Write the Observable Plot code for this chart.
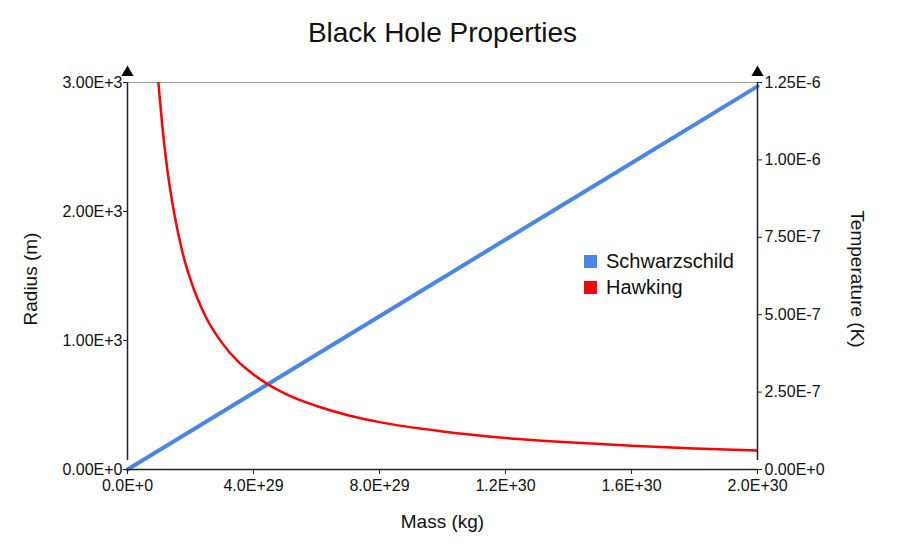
<!DOCTYPE html>
<html>
<head>
<meta charset="utf-8">
<script src="https://cdn.jsdelivr.net/npm/d3@7"></script>
<script src="https://cdn.jsdelivr.net/npm/@observablehq/plot@0.6"></script>
<style>
  body { margin: 0; background: #fff; font-family: "Liberation Sans", Arial, sans-serif; }
  #wrap { position: relative; width: 900px; height: 550px; }
  .legend { position: absolute; left: 584px; top: 248px; font-size: 20px; color: #111; }
  .legend div { display: flex; align-items: center; height: 26px; }
  .legend span.sw { display: inline-block; width: 13px; height: 13px; margin-right: 9px; }
</style>
</head>
<body>
<div id="wrap"></div>
<script>
// ---- data ----
const title = "Black Hole Properties";
const xLabel = "Mass (kg)";
const yLeftLabel = "Radius (m)";
const yRightLabel = "Temperature (K)";
const seriesNames = ["Schwarzschild", "Hawking"];
const seriesColors = ["#4a86e8", "#ff0000"];

const massDomain = [0, 2.0e30];
const radiusDomain = [0, 3000];
const tempDomain = [0, 1.25e-6];

const massTicks = [0, 4e29, 8e29, 1.2e30, 1.6e30, 2.0e30];
const radiusTicks = [0, 1000, 2000, 3000];
const tempTicks = [0, 2.5e-7, 5.0e-7, 7.5e-7, 1.0e-6, 1.25e-6];

// Schwarzschild radius (m) vs mass (kg)
const schwMass = [0, 5e29, 1e30, 1.5e30, 2e30];
const schwRadius = [0, 742, 1485, 2227, 2970];

// Hawking temperature (K) vs mass (kg)
const hawkMass = [9.8e28, 1.1e29, 1.25e29, 1.5e29, 1.75e29, 2e29, 2.5e29, 3e29, 3.5e29, 4e29, 5e29, 6e29, 7e29, 8e29, 1e30, 1.2e30, 1.4e30, 1.6e30, 1.8e30, 2e30];
const hawkTemp = [1.25e-6, 1.115e-6, 9.8e-7, 8.18e-7, 7.0e-7, 6.13e-7, 4.9e-7, 4.09e-7, 3.5e-7, 3.07e-7, 2.45e-7, 2.05e-7, 1.75e-7, 1.53e-7, 1.23e-7, 1.02e-7, 8.8e-8, 7.7e-8, 6.8e-8, 6.1e-8];

// ---- build ----
const k = radiusDomain[1] / tempDomain[1]; // temperature -> left-axis units
const schw = schwMass.map((m, i) => ({m, v: schwRadius[i]}));
const hawk = hawkMass.map((m, i) => ({m, v: hawkTemp[i] * k}));

function fmtE(v, digits) {
  if (v === 0) return (0).toFixed(digits) + "E+0";
  const e = Math.floor(Math.log10(Math.abs(v)) + 1e-9);
  const m = v / Math.pow(10, e);
  return m.toFixed(digits) + "E" + (e >= 0 ? "+" : "") + e;
}

const axisColor = "#222";
const tickFont = 16;
const labelFont = 19;
const chart = Plot.plot({
  width: 900,
  height: 550,
  marginLeft: 127,
  marginRight: 143,
  marginTop: 82,
  marginBottom: 81,
  style: { fontFamily: "'Liberation Sans', Arial, sans-serif", fontSize: "16px", color: "#111", background: "#fff" },
  x: { domain: massDomain },
  y: { domain: radiusDomain },
  marks: [
    Plot.ruleY([radiusDomain[1]], { stroke: "#999", strokeWidth: 1 }),
    Plot.line(schw, { x: "m", y: "v", stroke: seriesColors[0], strokeWidth: 4 }),
    Plot.line(hawk, { x: "m", y: "v", stroke: seriesColors[1], strokeWidth: 2.5, curve: "monotone-x", clip: true }),
    Plot.axisX({ ticks: massTicks, tickFormat: d => fmtE(d, 1), tickSize: 5, tickPadding: 5, stroke: axisColor, label: null, fontSize: tickFont }),
    Plot.axisY({ anchor: "left", ticks: radiusTicks, tickFormat: d => fmtE(d, 2), tickSize: 4, tickPadding: 1, stroke: axisColor, label: null, fontSize: tickFont }),
    Plot.axisY({ anchor: "right", ticks: tempTicks.map(t => t * k), tickFormat: (d, i) => fmtE(tempTicks[i], 2), tickSize: 4, tickPadding: 3, stroke: axisColor, label: null, fontSize: tickFont }),
    Plot.ruleY([radiusDomain[0]], { stroke: axisColor, strokeWidth: 1.5 }),
    Plot.ruleX([massDomain[0]], { y1: radiusDomain[0], y2: radiusDomain[1], insetTop: -9, stroke: axisColor, strokeWidth: 1.5 }),
    Plot.ruleX([massDomain[1]], { y1: radiusDomain[0], y2: radiusDomain[1], insetTop: -9, stroke: axisColor, strokeWidth: 1.5 }),
    Plot.dot([massDomain[0], massDomain[1]], { x: d => d, y: () => radiusDomain[1], symbol: "triangle", r: 4.5, fill: "#000", stroke: "none", dy: -10 }),
    Plot.text([title], { frameAnchor: "top", lineAnchor: "middle", dy: -49, fontSize: 28, fill: "#111" }),
    Plot.text([yLeftLabel], { frameAnchor: "left", textAnchor: "middle", lineAnchor: "middle", dx: -97, dy: 3, rotate: -90, fontSize: labelFont, fill: "#111" }),
    Plot.text([yRightLabel], { frameAnchor: "right", textAnchor: "middle", lineAnchor: "middle", dx: 100, dy: 3, rotate: 90, fontSize: labelFont, fill: "#111" }),
    Plot.text([xLabel], { frameAnchor: "bottom", lineAnchor: "middle", dy: 52, fontSize: labelFont, fill: "#111" })
  ]
});
const wrap = document.getElementById("wrap");
wrap.appendChild(chart);

const legend = document.createElement("div");
legend.className = "legend";
seriesNames.forEach((name, i) => {
  const row = document.createElement("div");
  const sw = document.createElement("span");
  sw.className = "sw";
  sw.style.background = seriesColors[i];
  row.appendChild(sw);
  row.appendChild(document.createTextNode(name));
  legend.appendChild(row);
});
wrap.appendChild(legend);
</script>
</body>
</html>
